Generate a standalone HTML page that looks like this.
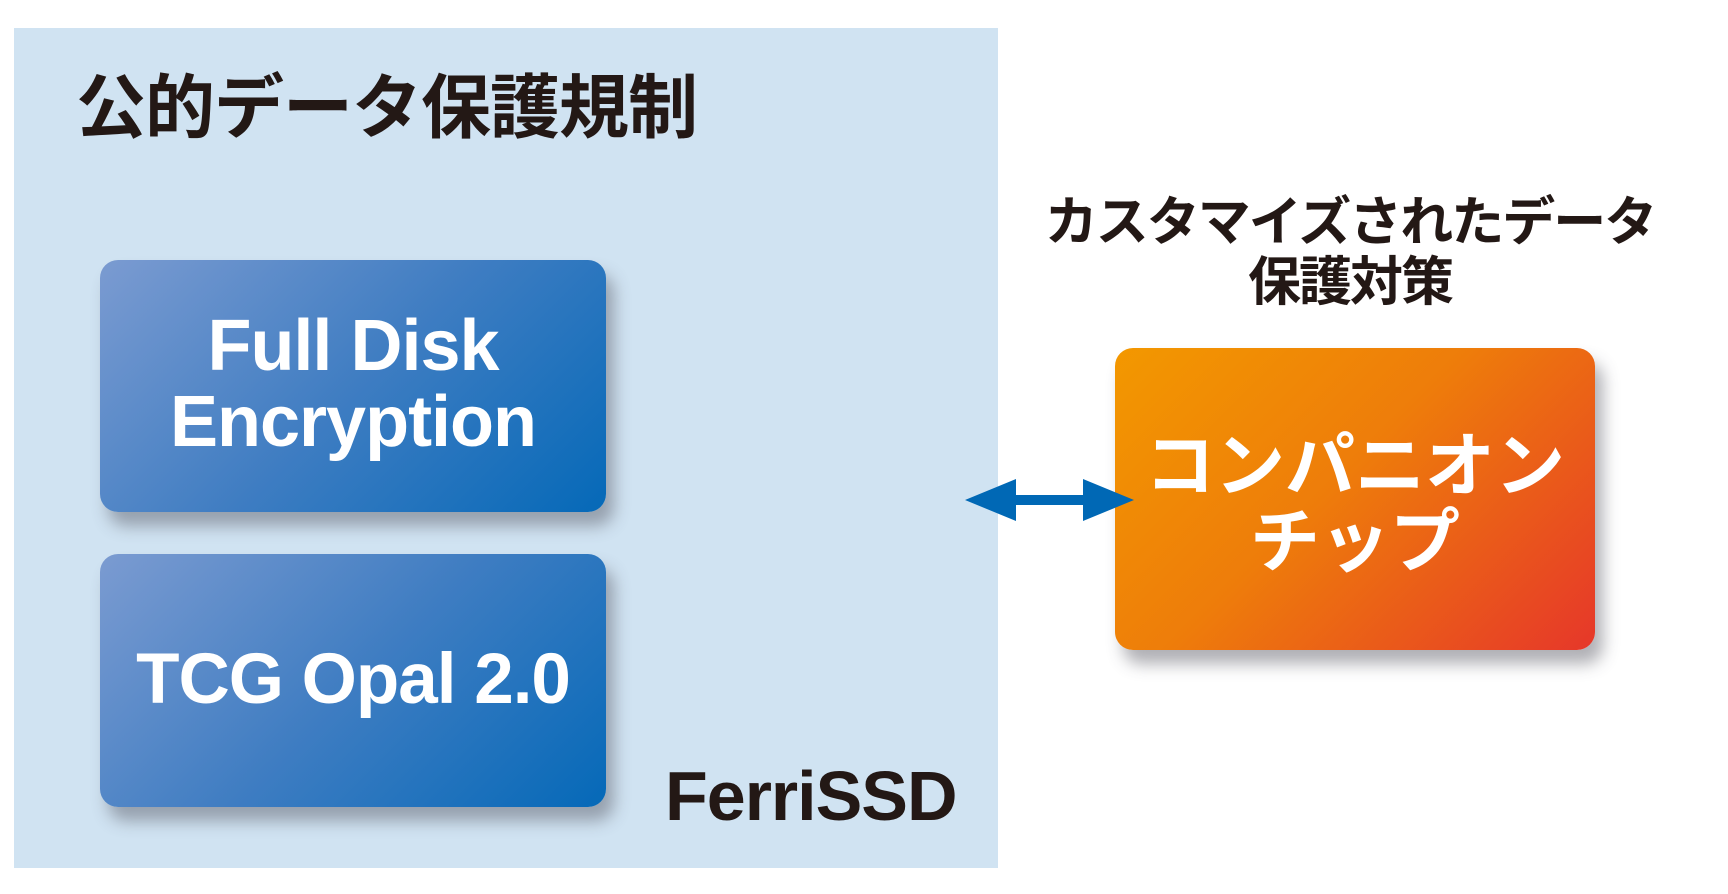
<!DOCTYPE html>
<html><head><meta charset="utf-8"><style>
body{margin:0;width:1728px;height:894px;background:#fff;position:relative;overflow:hidden;font-family:"Liberation Sans","Noto Sans CJK JP",sans-serif;}
.bg{position:absolute;left:14px;top:28px;width:984px;height:840px;background:#d0e3f2;}
.t{position:absolute;font-weight:bold;color:#231815;white-space:nowrap;}
.box{position:absolute;border-radius:18px;box-shadow:8px 14px 16px rgba(80,80,90,0.45);color:#fff;font-weight:bold;text-align:center;}
.blue{background:linear-gradient(135deg,#7b9bd1 0%,#3f7dc2 50%,#0569b8 100%);}
.or{background:linear-gradient(135deg,#f39800 0%,#ee7d0a 45%,#e6372a 100%);}
</style></head><body>
<div class="bg"></div>
<div class="t" style="left:76px;top:52px;font-size:70px;letter-spacing:-1px;">公的データ保護規制</div>
<div class="box blue" style="left:100px;top:260px;width:506px;height:252px;">
 <div style="position:absolute;left:0;right:0;top:48px;font-size:72px;line-height:76px;letter-spacing:-1px;">Full Disk<br>Encryption</div>
</div>
<div class="box blue" style="left:100px;top:554px;width:506px;height:253px;">
 <div style="position:absolute;left:0;right:0;top:88px;font-size:71px;line-height:76px;letter-spacing:-1px;">TCG Opal 2.0</div>
</div>
<div class="t" style="left:665px;top:756px;font-size:70px;letter-spacing:-1px;">FerriSSD</div>
<div class="t" style="left:1040px;top:193px;width:620px;text-align:center;font-size:53px;line-height:60px;letter-spacing:-2px;">カスタマイズされたデータ<br>保護対策</div>
<div class="box or" style="left:1115px;top:348px;width:480px;height:302px;">
 <div style="position:absolute;left:0;right:0;top:80px;font-size:70px;line-height:76px;">コンパニオン<br>チップ</div>
</div>
<svg style="position:absolute;left:0;top:0" width="1728" height="894">
<polygon points="965,500 1016,479 1016,495 1083,495 1083,479 1134,500 1083,521 1083,505 1016,505 1016,521" fill="#0068b5"/>
</svg>
</body></html>
